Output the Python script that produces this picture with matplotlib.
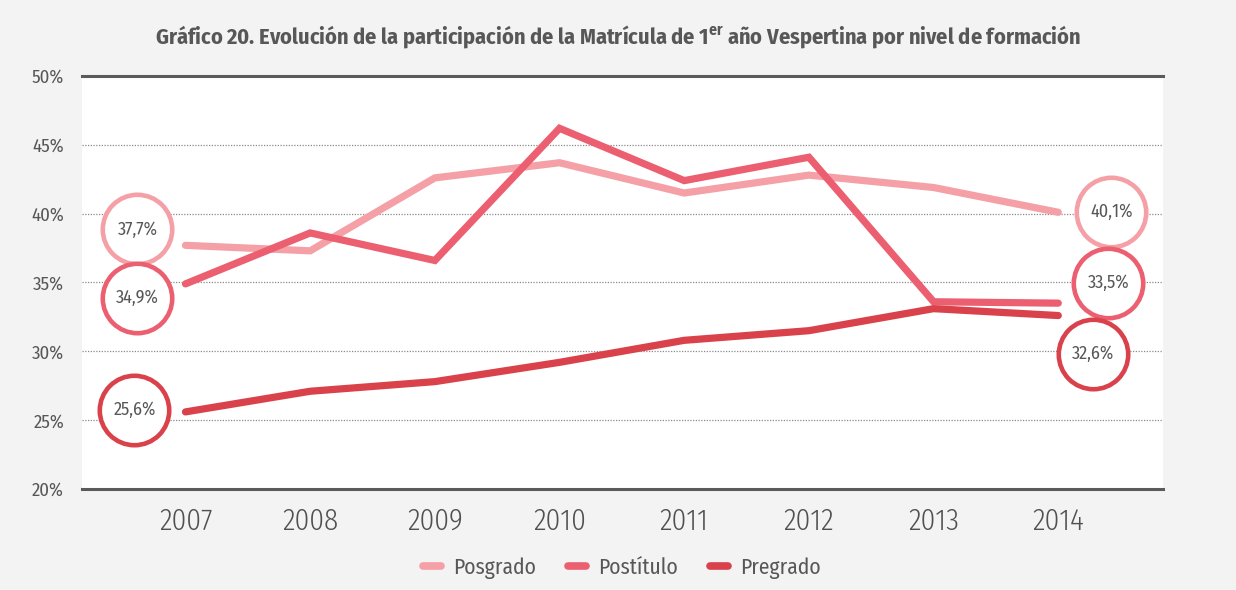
import matplotlib
matplotlib.use("Agg")
import matplotlib.pyplot as plt
from matplotlib.transforms import offset_copy
from matplotlib.lines import Line2D

years = [2007, 2008, 2009, 2010, 2011, 2012, 2013, 2014]
posgrado = [37.7, 37.3, 42.6, 43.7, 41.5, 42.8, 41.9, 40.1]
postitulo = [34.9, 38.6, 36.6, 46.2, 42.4, 44.1, 33.6, 33.5]
pregrado = [25.6, 27.1, 27.8, 29.2, 30.8, 31.5, 33.1, 32.6]
series_names = ["Posgrado", "Postítulo", "Pregrado"]
yticks = [20, 25, 30, 35, 40, 45, 50]

colors = ["#f4a0a6", "#eb5f70", "#d9424a"]
text_col = "#575757"
bg = "#f2f3f2"

plt.rcParams['font.family'] = ['Fira Sans Condensed', 'DejaVu Sans']

fig = plt.figure(figsize=(12.36, 5.9), dpi=100, facecolor=bg)
W, H = 1236, 590
ax = fig.add_axes([82 / W, 1 - 489 / H, (1163 - 82) / W, (489 - 76) / H])
ax.set_facecolor("white")

ax.set_xlim(2006.17, 2014.84)
ax.set_ylim(20, 50)

for v in yticks[1:-1]:
    ax.axhline(v, color="#8a8a8a", lw=0.9, ls=(0, (1, 1.2)), zorder=1)
for v in (20, 50):
    ax.axhline(v, color="#5a5a5a", lw=2.2, zorder=2, clip_on=False)

for s in ax.spines.values():
    s.set_visible(False)

data = [posgrado, postitulo, pregrado]
for vals, c, name in zip(data, colors, series_names):
    ax.plot(years, vals, color=c, lw=5.2, solid_capstyle="round",
            solid_joinstyle="miter", zorder=3, label=name)

# bubbles: pixel offsets from first / last points
left_off = [(-48, 16), (-48, -14), (-51, 2)]
right_off = [(53, 0), (50, 20), (35, -38)]
for vals, c, lo, ro in zip(data, colors, left_off, right_off):
    for xi, yi, (dx, dy) in ((years[0], vals[0], lo), (years[-1], vals[-1], ro)):
        tr = offset_copy(ax.transData, fig=fig, x=dx, y=dy, units='dots')
        ax.scatter([xi], [yi], s=2500, facecolor="white", edgecolor=c,
                   linewidth=3.3, transform=tr, zorder=5, clip_on=False)
        ax.text(xi, yi, f"{yi:.1f}%".replace(".", ","), transform=tr,
                ha="center", va="center", fontsize=13, fontweight=400,
                color=text_col, zorder=6, clip_on=False)

ax.set_xticks(years)
ax.set_xticklabels([str(y) for y in years], fontsize=21, fontweight=300, color="#505050")
ax.set_yticks(yticks)
ax.set_yticklabels([f"{v}%" for v in yticks], fontsize=13.5, fontweight=400, color=text_col)
ax.tick_params(axis="both", length=0)
ax.tick_params(axis="x", pad=13)
ax.tick_params(axis="y", pad=13)

fig.text(0.5, 1 - 37 / H,
         "Gráfico 20. Evolución de la participación de la Matrícula de 1$^{\\mathregular{er}}$ año Vespertina por nivel de formación",
         ha="center", va="center", fontsize=16, fontweight="bold", color=text_col)

handles = [Line2D([0], [0], color=c, lw=5.5, solid_capstyle="round") for c in colors]
fig.legend(handles, series_names, loc="center", bbox_to_anchor=(0.503, 1 - 568 / H),
           ncol=3, frameon=False, prop={'size': 15.5, 'weight': 400},
           handlelength=0.85, handletextpad=0.55,
           columnspacing=1.5, labelcolor=text_col)

fig.savefig("out.png", dpi=100, facecolor=bg)
